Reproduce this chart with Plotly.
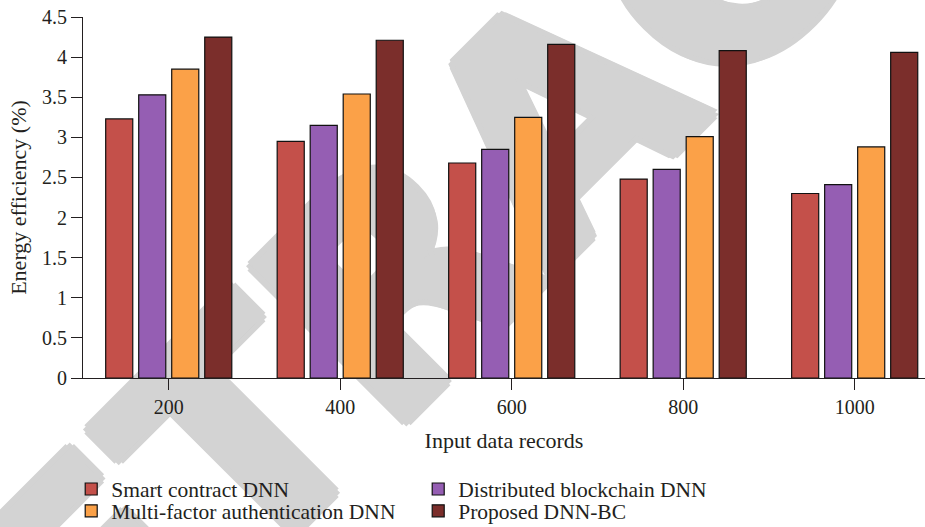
import plotly.graph_objects as go

categories = ["200", "400", "600", "800", "1000"]
series_names = ["Smart contract DNN", "Distributed blockchain DNN",
                "Multi-factor authentication DNN", "Proposed DNN-BC"]
smart_contract = [3.23, 2.95, 2.68, 2.48, 2.30]
distributed_bc = [3.53, 3.15, 2.85, 2.60, 2.41]
multi_factor = [3.85, 3.54, 3.25, 3.01, 2.88]
proposed = [4.25, 4.21, 4.16, 4.08, 4.06]
colors = ["#C4504A", "#955EB3", "#FBA148", "#7B2E2B"]
legend_rows = ["legend", "legend", "legend2", "legend2"]
y_ticks = [0, 0.5, 1, 1.5, 2, 2.5, 3, 3.5, 4, 4.5]

FONT = "Liberation Serif, Times New Roman, serif"
WM = "#D3D3D3"
wm_shadow = ", ".join(f"{dx}px {dy}px 0 {WM}" for dx, dy in
                      [(6, 0), (-6, 0), (0, 6), (0, -6), (4, 4), (-4, -4), (4, -4), (-4, 4)])

fig = go.Figure()
for name, vals, col, lg in zip(series_names,
                               [smart_contract, distributed_bc, multi_factor, proposed],
                               colors, legend_rows):
    fig.add_trace(go.Bar(x=categories, y=vals, name=name, legend=lg,
                         marker=dict(color=col, line=dict(color="#111111", width=1.2))))

legend_common = dict(orientation="h", x=-0.014, xanchor="left", yanchor="middle",
                     entrywidth=302, font=dict(size=21.5), traceorder="normal",
                     bgcolor="rgba(0,0,0,0)")

fig.update_layout(
    width=925, height=527,
    margin=dict(l=83, r=0, t=17, b=149, autoexpand=False),
    paper_bgcolor="white", plot_bgcolor="rgba(0,0,0,0)",
    font=dict(family=FONT, size=20, color="#231F20"),
    barmode="group", bargap=0.23, bargroupgap=0.18,
    showlegend=True,
    legend=dict(y=-0.3075, **legend_common),
    legend2=dict(y=-0.368, **legend_common),
    shapes=[dict(type="rect", xref="paper", yref="paper",
                 x0=0.54, x1=0.56, y0=0.75, y1=0.77, layer="below",
                 line=dict(width=0), fillcolor="rgba(0,0,0,0)",
                 label=dict(text="<b>RETRACTED</b>", textangle=-45, textposition="middle center",
                            font=dict(family="DejaVu Sans, sans-serif", size=300,
                                      color=WM, shadow=wm_shadow)))],
)
fig.update_xaxes(
    type="category", range=[-0.5, 4.41], automargin=False,
    showline=True, linecolor="#231F20", linewidth=1.2,
    ticks="outside", ticklen=11, tickcolor="#231F20", tickwidth=1.2,
    showgrid=False, zeroline=False, tickfont=dict(size=20),
    title=dict(text="Input data records", standoff=15, font=dict(size=22)),
)
fig.update_yaxes(
    range=[0, 4.5], tickvals=y_ticks, automargin=False,
    showline=True, linecolor="#231F20", linewidth=1.2,
    ticks="outside", ticklen=11, tickcolor="#231F20", tickwidth=1.2,
    showgrid=False, zeroline=False, tickfont=dict(size=20),
    title=dict(text="Energy efficiency (%)", standoff=9, font=dict(size=22)),
)
fig.write_html("out.html", config={"displayModeBar": False},
               post_script="document.body.style.margin='0px';document.body.style.padding='0px';")
